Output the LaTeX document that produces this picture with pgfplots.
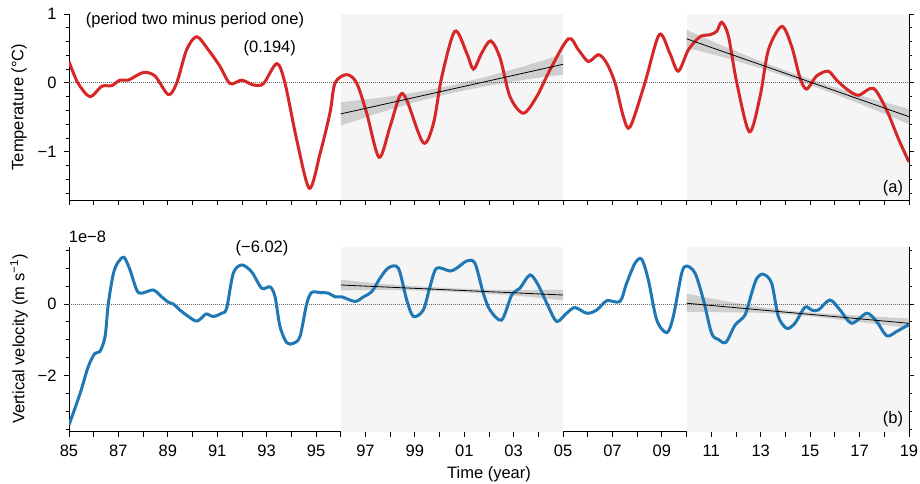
\documentclass[border=0pt]{standalone}
\usepackage{fontspec}
\setmainfont{Liberation Sans}
\usepackage{pgfplots}
\pgfplotsset{compat=1.18}
\definecolor{tred}{HTML}{D62728}
\definecolor{tblue}{HTML}{1F77B4}
\definecolor{shade}{HTML}{F5F5F5}
\definecolor{bandc}{HTML}{CFCFCF}
\newcommand\fs{\fontsize{16.5}{19.8}\selectfont}
\pgfplotsset{
  myaxis/.style={
    scale only axis, width=840pt,
    xmin=1985, xmax=2019,
    axis x line=bottom, axis y line=box,
    axis line style={-, line width=0.9pt, black},
    tick align=outside,
    major tick length=5pt, minor tick length=3pt,
    every tick/.style={black, line width=0.8pt},
    xtick={1985,...,2019},
    minor x tick num=3,
    yticklabel pos=left,
    ytick pos=both,
    tick label style={font=\fs},
    yticklabel style={xshift=-4pt},
    xticklabel style={yshift=-5pt},
    label style={font=\fs},
    every axis y label/.style={at={(axis description cs:0,0.5)}, xshift=-50pt, rotate=90, anchor=center, font=\fs},
    clip mode=individual,
  }
}
\begin{document}
\begin{tikzpicture}[font=\fs]
\useasboundingbox (0pt,0pt) rectangle (920pt,-483pt);
% ---------------- top panel ----------------
\begin{axis}[myaxis, at={(69pt,-200pt)}, anchor=south west, height=186pt,
  ymin=-1.7, ymax=1.0,
  ytick={-1,0,1}, yticklabels={−1,0,1},
  minor ytick={-1.6,-1.4,-1.2,-0.8,-0.6,-0.4,-0.2,0.2,0.4,0.6,0.8},
  xticklabels={},
  ylabel={Temperature (°C)}]
\addplot[fill=shade, draw=none] coordinates {(1996,-1.7) (2005,-1.7) (2005,1.0) (1996,1.0)} -- cycle;
\addplot[fill=shade, draw=none] coordinates {(2010,-1.7) (2019,-1.7) (2019,1.0) (2010,1.0)} -- cycle;
\addplot[fill=bandc, draw=none] coordinates {
 (1996,-0.28) (1997.5,-0.22) (1999,-0.14) (2000.5,-0.035) (2002,0.10) (2003.5,0.25) (2005,0.42)
 (2005,0.12) (2003.5,0.05) (2002,-0.04) (2000.5,-0.145) (1999,-0.28) (1997.5,-0.44) (1996,-0.62)} -- cycle;
\addplot[fill=bandc, draw=none] coordinates {
 (2010,0.77) (2011.5,0.532) (2013,0.313) (2014.5,0.115) (2016,-0.064) (2017.5,-0.232) (2019,-0.38)
 (2019,-0.60) (2017.5,-0.372) (2016,-0.164) (2014.5,0.035) (2013,0.213) (2011.5,0.372) (2010,0.51)} -- cycle;
\addplot[gray!80!black, line width=0.8pt, dash pattern=on 1pt off 1pt] coordinates {(1985,0) (2019,0)};
\addplot[tred, line width=3pt, smooth] coordinates {
(1985.0,0.31) (1985.36,0.0) (1985.85,-0.20) (1986.32,-0.05) (1986.73,-0.04) (1987.06,0.04)
(1987.4,0.04) (1988.0,0.15) (1988.48,0.10) (1989.02,-0.17) (1989.36,0.0) (1989.76,0.48)
(1990.17,0.67) (1990.64,0.48) (1991.11,0.24) (1991.52,-0.01) (1991.99,0.04) (1992.46,-0.03)
(1992.87,-0.01) (1993.41,0.28) (1993.74,0.0) (1994.22,-0.83) (1994.73,-1.53) (1995.16,-1.03)
(1995.56,-0.44) (1995.77,0.0) (1996.24,0.12) (1996.64,0.0) (1997.05,-0.44) (1997.55,-1.08)
(1997.99,-0.64) (1998.40,-0.18) (1998.67,-0.25) (1999.34,-0.87) (1999.75,-0.59) (2000.09,0.09)
(2000.62,0.75) (2001.10,0.43) (2001.37,0.20) (2001.70,0.43) (2002.07,0.61) (2002.45,0.36)
(2002.85,-0.20) (2003.39,-0.44) (2003.93,-0.20) (2004.47,0.19) (2005.21,0.64) (2005.62,0.48)
(2006.02,0.31) (2006.43,0.41) (2006.76,0.29) (2007.10,0.0) (2007.44,-0.49) (2007.71,-0.64)
(2008.31,0.0) (2008.89,0.70) (2009.32,0.43) (2009.66,0.17) (2010.07,0.48) (2010.54,0.67)
(2010.95,0.70) (2011.22,0.75) (2011.42,0.88) (2011.69,0.68) (2012.03,0.0) (2012.54,-0.71)
(2012.97,-0.20) (2013.31,0.48) (2013.85,0.82) (2014.25,0.53) (2014.59,0.07) (2014.86,-0.09)
(2015.26,0.10) (2015.73,0.17) (2016.07,0.04) (2016.48,-0.09) (2016.95,-0.18) (2017.56,-0.08)
(2018.10,-0.40) (2018.57,-0.81) (2019.0,-1.15)};
\addplot[black, line width=0.8pt] coordinates {(1996,-0.45) (2005,0.27)};
\addplot[black, line width=0.8pt] coordinates {(2010,0.64) (2019,-0.49)};
\node[font=\fs] at (axis description cs:0.15,0.968) {(period two minus period one)};
\node[font=\fs] at (axis description cs:0.239,0.817) {(0.194)};
\node[font=\fs] at (axis description cs:0.981,0.065) {(a)};
\end{axis}
% ---------------- bottom panel ----------------
\begin{axis}[myaxis, at={(69pt,-431.7pt)}, anchor=south west, height=185pt,
  ymin=-3.57, ymax=1.6,
  ytick={-2,0}, yticklabels={−2,0},
  minor ytick={-3.5,-3,-2.5,-1.5,-1,-0.5,0.5,1,1.5},
  xticklabels={85,,87,,89,,91,,93,,95,,97,,99,,01,,03,,05,,07,,09,,11,,13,,15,,17,,19},
  ylabel={Vertical velocity (m s$^{\mathrm{−1}}$)},
  xlabel={Time (year)},
  every axis x label/.style={at={(axis description cs:0.5,0)}, yshift=-43pt, anchor=center, font=\fs}]
\addplot[fill=shade, draw=none] coordinates {(1996,-3.57) (2005,-3.57) (2005,1.6) (1996,1.6)} -- cycle;
\addplot[fill=shade, draw=none] coordinates {(2010,-3.57) (2019,-3.57) (2019,1.6) (2010,1.6)} -- cycle;
\addplot[fill=bandc, draw=none] coordinates {
 (1996,0.68) (1997.5,0.573) (1999,0.497) (2000.5,0.44) (2002,0.403) (2003.5,0.387) (2005,0.40)
 (2005,0.10) (2003.5,0.207) (2002,0.283) (2000.5,0.34) (1999,0.377) (1997.5,0.393) (1996,0.38)} -- cycle;
\addplot[fill=bandc, draw=none] coordinates {
 (2010,0.29) (2011.5,0.087) (2013,-0.087) (2014.5,-0.21) (2016,-0.283) (2017.5,-0.347) (2019,-0.41)
 (2019,-0.67) (2017.5,-0.547) (2016,-0.423) (2014.5,-0.31) (2013,-0.247) (2011.5,-0.233) (2010,-0.22)} -- cycle;
\addplot[gray!80!black, line width=0.8pt, dash pattern=on 1pt off 1pt] coordinates {(1985,0) (2019,0)};
\addplot[tblue, line width=3pt, smooth] coordinates {
(1985.0,-3.38) (1985.45,-2.50) (1985.78,-1.75) (1986.05,-1.38) (1986.25,-1.33) (1986.46,-0.91)
(1986.59,0.0) (1986.8,0.86) (1987.0,1.18) (1987.23,1.30) (1987.47,0.95) (1987.74,0.39)
(1987.94,0.30) (1988.41,0.39) (1988.75,0.20) (1989.02,0.05) (1989.22,0.0) (1989.56,-0.21)
(1990.10,-0.47) (1990.30,-0.43) (1990.55,-0.28) (1990.84,-0.35) (1991.18,-0.26) (1991.38,-0.12)
(1991.65,0.86) (1991.99,1.09) (1992.39,0.90) (1992.80,0.44) (1993.14,0.48) (1993.34,0.20)
(1993.54,-0.63) (1993.81,-1.08) (1994.08,-1.10) (1994.35,-0.91) (1994.62,0.0) (1994.82,0.32)
(1995.16,0.32) (1995.50,0.30) (1995.77,0.20) (1996.04,0.20) (1996.58,0.07) (1996.92,0.20)
(1997.25,0.34) (1997.59,0.72) (1997.93,1.01) (1998.33,1.00) (1998.67,0.11) (1998.94,-0.35)
(1999.34,-0.17) (1999.61,0.48) (1999.88,1.00) (2000.42,0.92) (2000.69,1.00) (2001.10,1.20)
(2001.43,1.14) (2001.77,0.30) (2002.04,-0.17) (2002.51,-0.45) (2002.92,0.25) (2003.25,0.44)
(2003.66,0.81) (2003.99,0.53) (2004.40,-0.07) (2004.74,-0.49) (2005.14,-0.26) (2005.48,-0.10)
(2005.96,-0.26) (2006.36,-0.17) (2006.77,0.09) (2007.30,0.07) (2007.57,0.58) (2007.91,1.14)
(2008.18,1.25) (2008.45,0.67) (2008.79,-0.45) (2009.20,-0.80) (2009.46,-0.35) (2009.80,0.86)
(2010.00,1.06) (2010.34,0.86) (2010.68,0.11) (2011.01,-0.82) (2011.28,-0.99) (2011.59,-1.07)
(2011.96,-0.59) (2012.36,-0.31) (2012.63,0.30) (2012.84,0.72) (2013.11,0.83) (2013.44,0.58)
(2013.71,-0.35) (2014.05,-0.68) (2014.38,-0.54) (2014.79,-0.09) (2015.06,-0.17) (2015.33,-0.17)
(2015.80,0.11) (2016.21,-0.17) (2016.68,-0.54) (2017.29,-0.26) (2017.69,-0.49) (2018.10,-0.89)
(2018.50,-0.77) (2019.00,-0.57)};
\addplot[black, line width=0.8pt] coordinates {(1996,0.53) (2005,0.25)};
\addplot[black, line width=0.8pt] coordinates {(2010,0.02) (2019,-0.54)};
\node[font=\fs] at (axis description cs:0.2298,0.993) {(−6.02)};
\node[font=\fs] at (axis description cs:0.022,1.052) {1e−8};
\node[font=\fs] at (axis description cs:0.981,0.069) {(b)};
\end{axis}
\end{tikzpicture}
\end{document}
